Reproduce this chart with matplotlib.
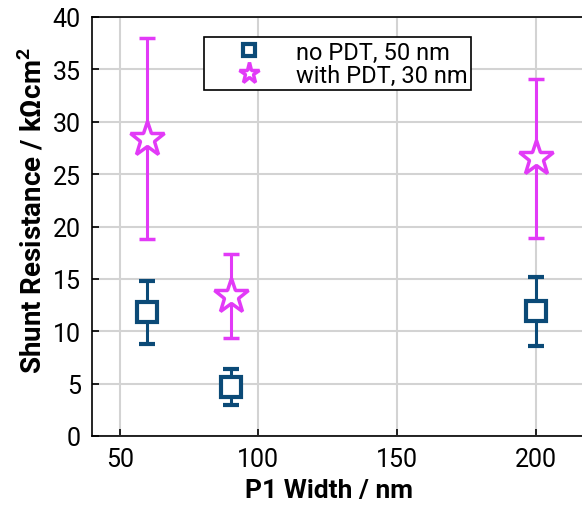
import matplotlib
matplotlib.use('Agg')
import matplotlib.pyplot as plt

# P1 width (nm) and shunt resistance (kOhm cm^2)
p1_width = [60, 90, 200]
rsh_no_pdt = [11.8, 4.7, 11.9]
err_no_pdt = [3.0, 1.7, 3.3]
rsh_with_pdt = [28.4, 13.4, 26.5]
err_with_pdt = [9.6, 4.0, 7.6]
labels = ['no PDT, 50 nm', 'with PDT, 30 nm']

navy = '#0b4a77'
magenta = '#e23af7'

plt.rcParams['font.family'] = ['Roboto', 'DejaVu Sans']
plt.rcParams['mathtext.fontset'] = 'custom'
plt.rcParams['mathtext.rm'] = 'Roboto'
plt.rcParams['mathtext.bf'] = 'Roboto:bold'

fig = plt.figure(figsize=(5.82, 5.06), dpi=100)
ax = fig.add_axes([92/582, 69/506, 499/582, 419/506])

ax.errorbar(p1_width, rsh_no_pdt, yerr=err_no_pdt, fmt='s', color=navy,
            ms=15, mew=3, mfc='white', mec=navy, elinewidth=2.2,
            capsize=6, capthick=2.2, label=labels[0], zorder=3)
ax.errorbar(p1_width, rsh_with_pdt, yerr=err_with_pdt, fmt='*', color=magenta,
            ms=26, mew=2.5, mfc='white', mec=magenta, elinewidth=2.2,
            capsize=6, capthick=2.2, label=labels[1], zorder=3)

ax.set_xlim(40, 220)
ax.set_ylim(0, 40)
ax.set_xticks([50, 100, 150, 200])
ax.set_yticks(range(0, 41, 5))
ax.grid(color='#d3d3d3', lw=1.5, zorder=0)
ax.set_axisbelow(True)
ax.tick_params(direction='in', length=5, width=1.2, labelsize=18, pad=8)
for s in ax.spines.values():
    s.set_linewidth(1.2)

ax.set_xlabel('P1 Width / nm', fontsize=19, fontweight='bold')
ax.xaxis.set_label_coords(0.475, -0.1)
ax.set_ylabel('Shunt Resistance / k\u03a9cm$^\\mathbf{2}$', fontsize=20, fontweight='bold')
ax.yaxis.set_label_coords(-0.09, 0.54)

h, l = ax.get_legend_handles_labels()
h = [hh[0] for hh in h]
leg = ax.legend(h, l, loc='upper left', bbox_to_anchor=(0.2245, 0.952), fontsize=17,
                markerscale=0.6, frameon=True, fancybox=False, edgecolor='black',
                framealpha=1, borderpad=0.15, borderaxespad=0, handletextpad=0.25,
                labelspacing=0.0, handlelength=3.5)
leg.get_frame().set_linewidth(1.2)

fig.savefig('out.png', dpi=100)
